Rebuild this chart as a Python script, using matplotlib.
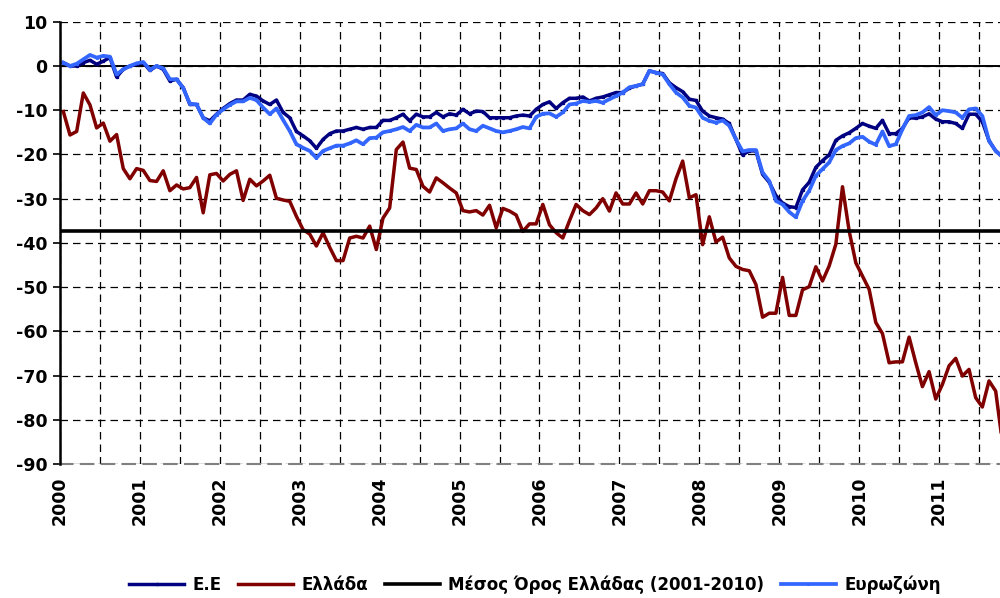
import numpy as np
import matplotlib
matplotlib.use("Agg")
from matplotlib import pyplot as plt

plt.rcParams['axes.unicode_minus'] = False

# monthly values, Jan 2000 onwards (last one runs off the cropped right edge)
years = list(range(2000, 2012))

ee = [0.75, 0, 0, 0.75, 1.3, 0.4, 1.1, 1.9, -2.5, -0.75,
      0, 0.4, 0.75, -1, 0, -0.75, -3.4, -3, -4.9, -8.7,
      -8.7, -11.7, -12.4, -10.9, -9.6, -8.5, -7.7, -7.7, -6.4, -6.8,
      -7.9, -8.7, -7.7, -10.5, -11.7, -14.8, -15.8, -16.9, -18.6, -16.6,
      -15.3, -14.7, -14.7, -14.3, -13.9, -14.3, -13.9, -13.9, -12.3, -12.3,
      -11.7, -10.9, -12.4, -10.9, -11.5, -11.5, -10.5, -11.5, -10.8, -11.1,
      -9.8, -10.8, -10.2, -10.3, -11.7, -11.7, -11.7, -11.7, -11.3, -11.1,
      -11.3, -9.8, -8.7, -8.1, -9.6, -8.3, -7.3, -7.3, -7, -7.9,
      -7.3, -7, -6.5, -6, -6, -5, -4.5, -4.1, -1.1, -1.5,
      -1.7, -3.8, -4.9, -5.8, -7.5, -7.8, -10.2, -11.3, -11.7, -12,
      -13, -16.6, -20.1, -19.2, -19.2, -24.5, -26.3, -29.3, -31, -31.8,
      -32, -28, -26.3, -22.9, -21.4, -20.1, -16.8, -15.8, -15.1, -14.1,
      -13, -13.6, -14.1, -12.3, -15.3, -15.3, -14.1, -11.7, -11.8, -11.5,
      -10.8, -12, -12.6, -12.6, -13, -14.1, -10.9, -10.9, -12.6, -16.9,
      -19.2, -20.5]

greece = [-10.3, -15.6, -14.8, -6.1, -8.8, -14, -12.9, -17, -15.5, -23.2,
          -25.5, -23.2, -23.6, -25.9, -26.1, -23.7, -28.2, -26.9, -27.8, -27.5,
          -25.2, -33.2, -24.6, -24.3, -26, -24.5, -23.7, -30.4, -25.6, -27.1,
          -26, -24.7, -29.9, -30.3, -30.6, -34, -37, -38, -40.7, -37.7,
          -41, -44, -44, -38.9, -38.5, -38.9, -36.2, -41.5, -34.4, -32.1,
          -18.9, -17.2, -23.1, -23.4, -27.2, -28.5, -25.3, -26.4, -27.6, -28.7,
          -32.7, -33, -32.7, -33.7, -31.5, -36.6, -32.2, -32.8, -33.7, -37.4,
          -35.7, -35.7, -31.3, -35.9, -37.7, -38.9, -35, -31.3, -32.7, -33.6,
          -32.1, -30, -32.8, -28.7, -31.2, -31.2, -28.7, -31.2, -28.2, -28.2,
          -28.5, -30.5, -25.5, -21.5, -29.8, -29.1, -40.4, -34.1, -39.8, -38.7,
          -43.4, -45.3, -46, -46.3, -49.4, -56.8, -55.9, -55.9, -47.8, -56.4,
          -56.4, -50.6, -49.9, -45.4, -48.6, -45.2, -40.3, -27.3, -37.3, -44.5,
          -47.5, -50.5, -58, -60.5, -67.1, -66.9, -66.9, -61.3, -67.1, -72.5,
          -69.1, -75.3, -72, -67.8, -66.1, -70.1, -68.6, -75, -77.1, -71.2,
          -73.5, -85]

eurozone = [0.75, 0, 0.5, 1.5, 2.5, 1.9, 2.3, 2.1, -1.9, -0.75,
            0, 0.6, 0.9, -0.8, 0, -0.5, -3, -3, -5, -8.5,
            -8.7, -11.7, -13, -11, -9.8, -8.8, -8, -8, -7.2, -7.7,
            -9.4, -10.9, -9.6, -12.2, -14.7, -17.7, -18.5, -19.2, -20.8, -19.2,
            -18.6, -18, -18, -17.5, -16.8, -17.7, -16.3, -16.2, -15, -14.7,
            -14.3, -13.8, -14.7, -13.3, -13.9, -13.9, -13, -14.7, -14.3, -14.1,
            -13, -14.3, -14.7, -13.5, -14.1, -14.7, -15, -14.7, -14.3, -13.8,
            -14.1, -11.5, -10.8, -10.7, -11.5, -10.5, -8.7, -8.5, -7.9, -8.1,
            -7.9, -8.3, -7.5, -6.8, -6, -4.8, -4.5, -4.1, -1.1, -1.5,
            -1.9, -4.1, -6, -7.1, -9, -9.4, -11.7, -12.4, -12.8, -12.3,
            -13.5, -16.6, -19.3, -19, -19, -24.1, -26, -30.5, -31.3, -33,
            -34.2, -30.5, -28.2, -24.8, -23.3, -21.8, -19, -18.1, -17.5, -16.3,
            -16, -17.1, -17.8, -14.8, -18.1, -17.7, -14.3, -11.3, -11.1, -10.5,
            -9.3, -11.1, -10, -10.2, -10.5, -11.7, -9.8, -9.6, -11.3, -16.9,
            -19.2, -20.5]

greece_mean = -37.3

labels = ['Ε.Ε', 'Ελλάδα', 'Μέσος Όρος Ελλάδας (2001-2010)', 'Ευρωζώνη']

months = np.arange(len(ee))

fig = plt.figure(figsize=(10, 5.98), dpi=100)
ax = fig.add_axes([0.06, 0.224, 0.94, 0.7396])

dash = (0, (6, 4))

ax.plot(months, ee, color='#000080', lw=2.5, marker='s', ms=1.4, label=labels[0], zorder=3)
ax.plot(months, greece, color='#800000', lw=2.5, label=labels[1], zorder=3)
ax.axhline(greece_mean, color='black', lw=2.6, label=labels[2], zorder=4)
ax.plot(months, eurozone, color='#3366FF', lw=2.7, marker='s', ms=1.2, label=labels[3], zorder=5)
ax.axhline(0, color='black', lw=1.4, zorder=2)

ax.set_xlim(-0.5, 140.65)
ax.set_ylim(-90, 10)

ax.set_yticks(range(-90, 11, 10))
ax.set_xticks([-0.5 + 12 * k for k in range(len(years))])
ax.set_xticklabels([str(y) for y in years], rotation=90)
ax.set_xticks([5.5 + 12 * k for k in range(len(years))], minor=True)

ax.yaxis.grid(True, ls=dash, color='black', lw=0.9)
ax.xaxis.grid(True, which='both', ls=dash, color='black', lw=0.9)
ax.set_axisbelow(True)

for lab in ax.get_xticklabels() + ax.get_yticklabels():
    lab.set_fontweight('bold')
    lab.set_fontsize(12.5)

ax.tick_params(axis='x', which='both', length=0, pad=9)
ax.tick_params(axis='y', length=5, width=1.2, direction='out', pad=4)

ax.spines['top'].set_visible(False)
ax.spines['right'].set_visible(False)
ax.spines['left'].set_linewidth(1.8)
ax.spines['left'].set_zorder(6)
ax.spines['bottom'].set_color('#808080')
ax.spines['bottom'].set_linestyle(dash)
ax.spines['bottom'].set_linewidth(1.5)

fig.legend(loc='lower center', bbox_to_anchor=(0.535, -0.018), ncol=4, frameon=False,
           prop={'weight': 'bold', 'size': 12}, handlelength=3.3, columnspacing=1.0,
           handletextpad=0.5)

fig.savefig('out.png', dpi=100)
